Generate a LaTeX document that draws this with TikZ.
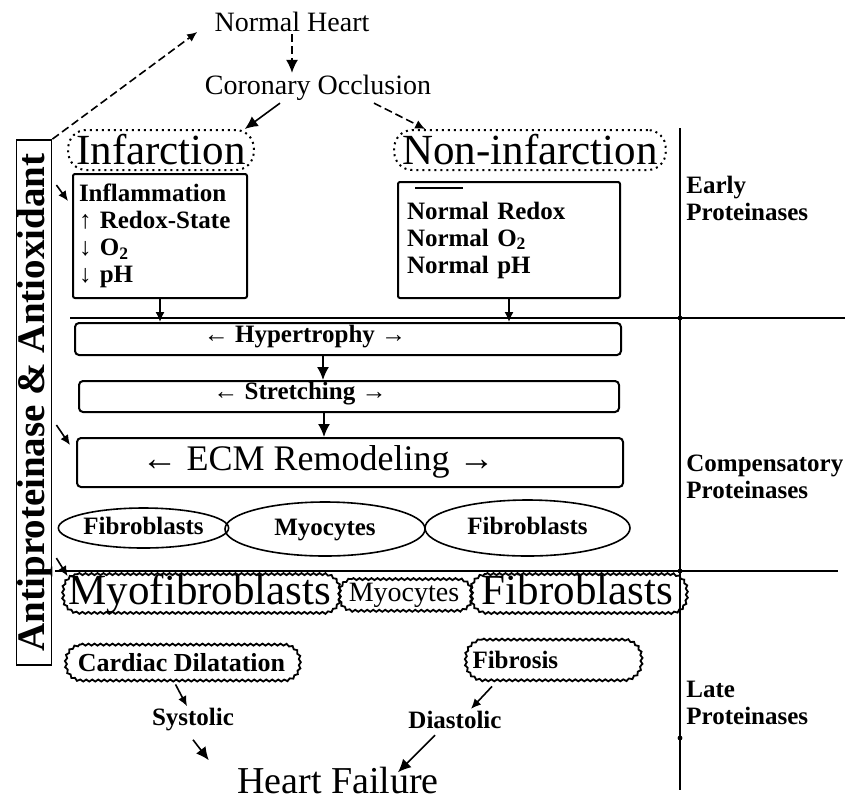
\documentclass[tikz,border=0pt]{standalone}
\usepackage{fontspec}
\setmainfont{Liberation Serif}
\usetikzlibrary{arrows.meta,shapes.geometric,decorations.pathmorphing}
\newcommand{\wobble}[2]{%
  \draw[wavyline] ([xshift=#2]#1.north west) -- ([xshift=-#2]#1.north east)
    arc[start angle=90,end angle=0,radius=#2] -- ([yshift=#2]#1.south east)
    arc[start angle=0,end angle=-90,radius=#2] -- ([xshift=#2]#1.south west)
    arc[start angle=270,end angle=180,radius=#2] -- ([yshift=-#2]#1.north west)
    arc[start angle=180,end angle=90,radius=#2] -- cycle;}

\begin{document}
\begin{tikzpicture}[
  x=0.5pt,y=-0.5pt,>={Latex[length=5pt,width=4.5pt]},
  lbl/.style={font=\fontsize{12.5}{13.5}\selectfont\bfseries,inner sep=1pt},
  head/.style={font=\fontsize{14}{16}\selectfont,inner sep=1pt},
  big/.style={font=\fontsize{21.5}{24}\selectfont,inner sep=1pt},
  dotbox/.style={big,draw,line width=1pt,dash pattern=on 1pt off 2pt,
    rounded corners=9pt,inner xsep=4pt,minimum height=20pt},
  infobox/.style={lbl,draw,line width=1pt,rounded corners=1pt,align=left,
    anchor=north west},
  band/.style={draw,line width=1pt,rounded corners=2pt,anchor=north west,
    minimum width=273pt},
  cell/.style={lbl,draw,ellipse,line width=0.8pt,inner sep=0pt,
    text height=9pt,text depth=2.5pt},
  wavy/.style={inner xsep=0pt},
  wavyline/.style={line width=0.9pt,decorate,
    decoration={snake,segment length=3pt,amplitude=0.5pt}},
  sepline/.style={line width=0.6pt},
  flow/.style={->,line width=0.8pt},
  main/.style={flow,>={Latex[length=6.5pt,width=6pt]}},
  hint/.style={flow,dash pattern=on 4pt off 2pt}
]
\useasboundingbox (0,0) rectangle (845,799);
\node[head] (nh) at (292,22) {Normal Heart};
\node[head] (co) at (318,88) {Coronary Occlusion};
\node[dotbox] (inf) at (161,150) {Infarction};
\node[dotbox] (non) at (530,150) {Non-infarction};
\node[infobox,text width=81pt,minimum height=62pt,inner xsep=3pt] (infbox) at (72,173)
  {Inflammation\\↑ Redox-State\\↓ O\textsubscript{2}\\↓ pH};
\node[infobox,text width=102pt,minimum height=58pt,inner xsep=4.5pt] (nbox) at (397,181)
  {Normal Redox\\Normal O\textsubscript{2}\\Normal pH};
\draw[line width=0.8pt] ([xshift=9pt,yshift=-3.5pt]nbox.north west) -- ++(24pt,0pt);
\node[draw,line width=0.9pt,rotate=90,minimum width=262.5pt,text height=14pt,
  text depth=3.5pt,inner sep=0pt,font=\fontsize{19.5}{22}\selectfont\bfseries] (anti)
  at (34,402.5) {Antiproteinase \& Antioxidant};

\node[band,minimum height=16pt] (hyp) at (74,322) {};
\node[lbl] (hyptxt) at (305,337) {← Hypertrophy →};
\node[band,minimum width=270pt,minimum height=15.5pt] (str) at (78,380) {};
\node[lbl] (strtxt) at (300,394) {← Stretching →};
\node[band,minimum height=24.5pt] (ecm) at (76,437) {};
\node[font=\fontsize{18}{20}\selectfont,inner sep=1pt] (ecmtxt) at (318,462) {← ECM Remodeling →};

\node[cell,minimum width=81.5pt,minimum height=20pt] (fb1) at (143.5,528) {Fibroblasts};
\node[cell,minimum width=100pt,minimum height=27pt] (my1) at (325,529) {Myocytes};
\node[cell,minimum width=102.5pt,minimum height=28pt] (fb2) at (527.5,528) {Fibroblasts};

\node[wavy,big,text height=14pt,text depth=3pt,minimum width=138pt,
  minimum height=18.5pt] (myo) at (200,593.5) {Myofibroblasts};
\node[wavy,head,minimum width=66pt,minimum height=15.5pt] (mcy) at (404,595) {Myocytes};
\node[wavy,big,text height=14pt,text depth=3pt,minimum width=107.5pt,
  minimum height=18.5pt] (fbb) at (577.5,593.5) {Fibroblasts};
\node[wavy,lbl,font=\fontsize{13}{14}\selectfont\bfseries,minimum width=116.5pt,
  minimum height=17.5pt] (cd) at (181.5,662.5) {Cardiac Dilatation};
\node[wavy,lbl,minimum height=20pt,text width=79.5pt,inner xsep=4pt,align=left] (fib)
  at (552,660) {Fibrosis};
\wobble{myo}{8pt}
\wobble{mcy}{7pt}
\wobble{fbb}{8pt}
\wobble{cd}{8pt}
\wobble{fib}{9pt}
\node[lbl] (sys) at (193,720) {Systolic};
\node[lbl] (dia) at (455,720) {Diastolic};
\node[font=\fontsize{19}{21}\selectfont,inner sep=1pt] (hf) at (338,780) {Heart Failure};

\node[lbl,align=left,anchor=west] (early) at (684,198) {Early\\Proteinases};
\node[lbl,align=left,anchor=west] (comp) at (684,477) {Compensatory\\Proteinases};
\node[lbl,align=left,anchor=west] (late) at (684,703) {Late\\Proteinases};

\draw[sepline] (680,128) -- (680,790);
\draw[sepline] (70,318) -- (845,318);
\draw[sepline] (55,571) -- (838,571);
\foreach \y in {318,571,738} \fill (680,\y) circle (1.2pt);

\draw[main,dash pattern=on 4pt off 2pt] (nh.south) -- (nh.south |- co.north);
\draw[main] ([xshift=-19pt]co.south) -- ([xshift=-5pt]inf.north east);
\draw[hint] ([xshift=28pt]co.south) -- ([xshift=16pt]non.north west);
\draw[hint] (anti.south east) -- ([xshift=-7.5pt,yshift=-5pt]nh.west);
\draw[flow] (infbox.south) -- (infbox.south |- hyp.north);
\draw[flow] (nbox.south) -- (nbox.south |- hyp.north);
\draw[main] ([xshift=-12.5pt]hyp.south) -- ([xshift=-12.5pt]hyp.south |- str.north);
\draw[main] ([xshift=-12.5pt]str.south) -- ([xshift=-12.5pt]str.south |- ecm.north);
\draw[flow] ([xshift=2pt,yshift=-6pt]anti.south |- infbox.north) -- ([xshift=-2pt,yshift=-14pt]infbox.north west);
\draw[flow] ([xshift=2pt,yshift=6pt]anti.south |- ecm.north) -- ([xshift=-3pt,yshift=-4pt]ecm.north west);
\draw[flow] ([xshift=2pt,yshift=8pt]anti.south |- myo.north) -- ([xshift=3pt,yshift=-1pt]myo.north west);
\draw[flow] ([xshift=-3pt,yshift=-2pt]cd.south) -- ([xshift=-3pt]sys.north);
\draw[flow] ([xshift=-30pt,yshift=-3pt]fib.south) -- ([xshift=8pt]dia.north);
\draw[main] ([yshift=-3pt]sys.south) -- ([xshift=-13pt,yshift=2pt]hf.north west);
\draw[main] ([xshift=-10pt,yshift=-2pt]dia.south) -- ([xshift=30pt,yshift=-4pt]hf.north);
\end{tikzpicture}
\end{document}
